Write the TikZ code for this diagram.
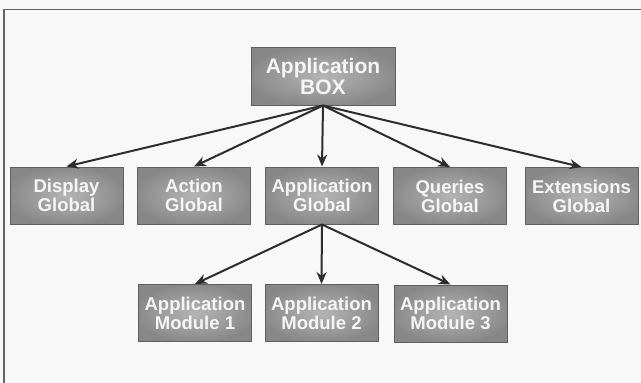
\documentclass[tikz,border=0pt]{standalone}
\usepackage{fontspec}
\setmainfont{Liberation Sans}
\usetikzlibrary{arrows.meta}
\definecolor{paper}{RGB}{248,248,248}
\definecolor{boxgray}{RGB}{135,135,135}
\definecolor{boxdark}{RGB}{95,95,95}
\definecolor{boxlight}{RGB}{180,180,180}
\definecolor{txtc}{RGB}{245,245,245}
\definecolor{arrowc}{RGB}{45,45,45}
\definecolor{framec}{RGB}{100,100,100}
\tikzset{
  gbox/.style={rectangle, fill=boxgray, draw=boxdark, line width=1pt,
    minimum width=113pt, minimum height=57pt, inner sep=0pt,
    text=txtc, align=center, font=\bfseries\fontsize{18.5}{19}\selectfont,
    path picture={\shade[inner color=boxlight, outer color=boxgray]
      (path picture bounding box.center) ellipse [x radius=62pt, y radius=30pt];}},
  bigbox/.style={gbox, minimum width=144pt, minimum height=58pt,
    font=\bfseries\fontsize{21}{21}\selectfont,
    path picture={\shade[inner color=boxlight, outer color=boxgray]
      (path picture bounding box.center) ellipse [x radius=78pt, y radius=31pt];}},
  arr/.style={draw=arrowc, line width=2pt, -{Stealth[length=12pt,width=10pt]}},
  framel/.style={draw=framec, line width=1.5pt}
}
\begin{document}
\begin{tikzpicture}[x=1pt,y=-1pt]
\fill[paper] (0,0) rectangle (641,383);
\useasboundingbox (0,0) rectangle (641,383);
\coordinate (tl) at (4,9.5);
\coordinate (tr) at (641,9.5);
\coordinate (bl) at (4,383);
\draw[framel] (tr) -- (tl) -- (bl);

\node[bigbox] (top) at (323,76) {Application\\BOX};

\node[gbox] (disp) at (66.5,195.5) {Display\\Global};
\node[gbox] (act) at (194,195.5) {Action\\Global};
\node[gbox] (appg) at (322,195.5) {Application\\Global};
\node[gbox] (quer) at (450,196) {Queries\\Global};
\node[gbox] (ext) at (581.5,196) {Extensions\\Global};

\node[gbox] (mod1) at (195,313) {Application\\Module 1};
\node[gbox] (mod2) at (321.5,313) {Application\\Module 2};
\node[gbox] (mod3) at (450.5,313.5) {Application\\Module 3};

\foreach \t in {disp,act,appg,quer,ext}
  \draw[arr] (top.south) -- (\t.north);
\foreach \t in {mod1,mod2,mod3}
  \draw[arr] (appg.south) -- (\t.north);
\end{tikzpicture}
\end{document}
